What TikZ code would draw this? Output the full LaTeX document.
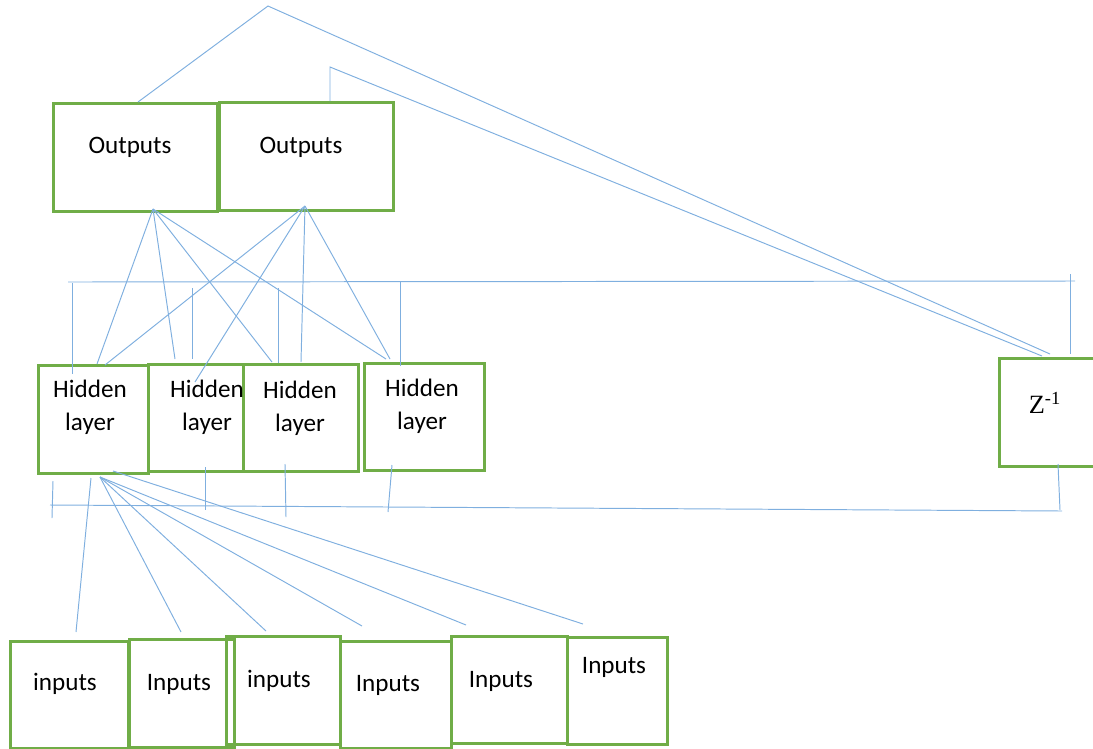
\documentclass[tikz,border=0pt]{standalone}
\usepackage{fontspec}
\setmainfont{Carlito}
\newfontfamily\zfont{Liberation Serif}
\definecolor{boxgreen}{HTML}{70AD47}
\definecolor{wireblue}{HTML}{7FAFDF}
\begin{document}
\begin{tikzpicture}[x=0.02cm, y=-0.02cm,
    box/.style={draw=boxgreen, line width=1.8pt, anchor=north west, inner sep=0pt},
    txt/.style={font=\fontsize{14.3}{18.8}\selectfont, align=center, inner sep=0pt},
    wire/.style={draw=wireblue, line width=0.55pt}]
      \useasboundingbox (0,0) rectangle (1093,748);
      % boxes
      \node (out1) at (52,102) [box, minimum width=3.28cm, minimum height=2.16cm] {};
      \node (out2) at (218,101) [box, minimum width=3.48cm, minimum height=2.16cm] {};
      \node (hid1) at (37,364) [box, minimum width=2.2cm, minimum height=2.16cm] {};
      \node (hid2) at (147,363) [box, minimum width=1.9cm, minimum height=2.14cm] {};
      \node (hid3) at (242,363) [box, minimum width=2.3cm, minimum height=2.14cm] {};
      \node (hid4) at (363,362) [box, minimum width=2.4cm, minimum height=2.14cm] {};
      \node (z) at (998,357) [box, minimum width=2.16cm, minimum height=2.16cm] {};
      \node (in1) at (9,640) [box, minimum width=2.36cm, minimum height=2.14cm] {};
      \node (in2) at (128,638) [box, minimum width=2.1cm, minimum height=2.16cm] {};
      \node (in3) at (225,635) [box, minimum width=2.28cm, minimum height=2.16cm] {};
      \node (in4) at (339,640) [box, minimum width=2.22cm, minimum height=2.14cm] {};
      \node (in5) at (450,635) [box, minimum width=2.32cm, minimum height=2.14cm] {};
      \node (in6) at (566,636) [box, minimum width=2.0cm, minimum height=2.14cm] {};
      % texts
      \node (out1txt) at (130,147) [txt] {Outputs};
      \node (out2txt) at (301,147) [txt] {Outputs};
      \node (hid1txt) at (90,407) [txt] {Hidden\\layer};
      \node (hid2txt) at (207,407) [txt] {Hidden\\layer};
      \node (hid3txt) at (300,408) [txt] {Hidden\\layer};
      \node (hid4txt) at (422,406) [txt] {Hidden\\layer};
      \node (ztxt) at (1045,403) [txt, font=\fontsize{15}{18}\selectfont] {\zfont Z\textsuperscript{-1}};
      \node (in1txt) at (65,684) [txt] {inputs};
      \node (in2txt) at (179,684) [txt] {Inputs};
      \node (in3txt) at (279,681) [txt] {inputs};
      \node (in4txt) at (388,685) [txt] {Inputs};
      \node (in5txt) at (501,681) [txt] {Inputs};
      \node (in6txt) at (614,667) [txt] {Inputs};
      % feedback to Z
      \coordinate (o1up) at (138,102);
      \coordinate (apex) at (268,6);
      \coordinate (o2up) at (330,101);
      \coordinate (o2bend) at (330,67);
      \coordinate (zin1) at (1050,354);
      \coordinate (zin2) at (1042,356);
      \draw[wire] (o1up) -- (apex) -- (zin1);
      \draw[wire] (o2up) -- (o2bend) -- (zin2);
      % upper bus
      \coordinate (busul) at (68,282);
      \coordinate (busur) at (1075,281);
      \draw[wire] (busul) -- (busur);
      \foreach \name/\x/\ya/\yb in {tu1/72/283/374, tu2/192/288/359, tu3/278/288/363, tu4/400/282/366, tu5/1070/274/354} {
        \coordinate (\name a) at (\x,\ya);
        \coordinate (\name b) at (\x,\yb);
        \draw[wire] (\name a) -- (\name b);
      }
      % lower bus
      \coordinate (busll) at (50,505);
      \coordinate (buslr) at (1062,511);
      \draw[wire] (busll) -- (buslr);
      \foreach \name/\xa/\ya/\xb/\yb in {tl1/53/481/52/518, tl2/205/467/205/510, tl3/285/464/286/517, tl4/392/465/388/512, tl5/1058/464/1060/510} {
        \coordinate (\name a) at (\xa,\ya);
        \coordinate (\name b) at (\xb,\yb);
        \draw[wire] (\name a) -- (\name b);
      }
      % fans
      \coordinate (o1fan) at (153,209);
      \coordinate (o2fan) at (305,206);
      \coordinate (hfan) at (100,477);
      \coordinate (hfana) at (91,478);
      \coordinate (hfanb) at (113,471);
      \coordinate (h1a) at (97,364);
      \coordinate (h1b) at (105,365);
      \coordinate (h2a) at (175,359);
      \coordinate (h2b) at (195,382);
      \coordinate (h3a) at (272,362);
      \coordinate (h3b) at (301,362);
      \coordinate (h4a) at (386,359);
      \coordinate (h4b) at (390,359);
      \coordinate (i1) at (76,632);
      \coordinate (i2) at (181,632);
      \coordinate (i3) at (266,631);
      \coordinate (i4) at (362,626);
      \coordinate (i5) at (466,625);
      \coordinate (i6) at (583,624);
      \foreach \source/\dest in {o1fan/h1a, o1fan/h2a, o1fan/h3a, o1fan/h4a, o2fan/h1b, o2fan/h2b, o2fan/h3b, o2fan/h4b, hfana/i1, hfan/i2, hfan/i3, hfan/i4, hfan/i5, hfanb/i6}
        \path[wire] (\source) edge (\dest);
    \end{tikzpicture}
\end{document}
